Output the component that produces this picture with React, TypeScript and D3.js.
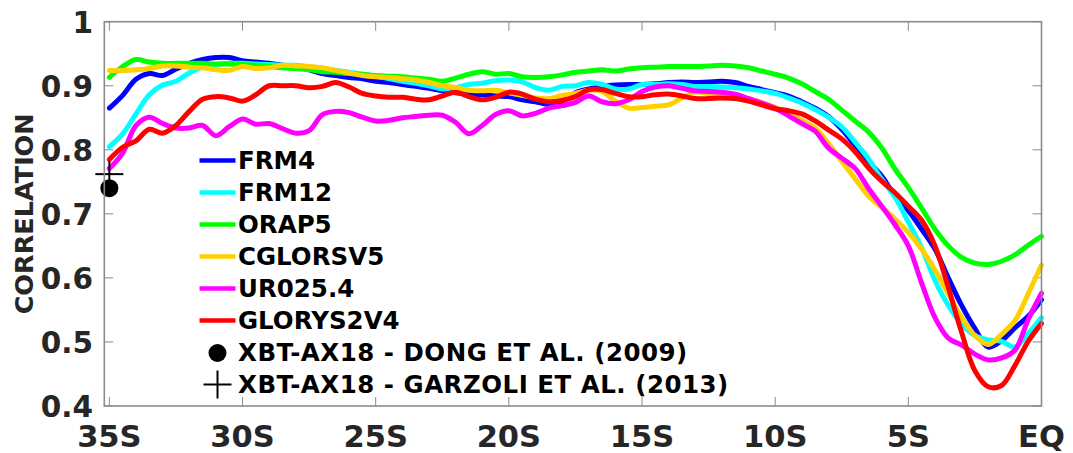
import React from "react";
import * as d3 from "d3";

const lat = [
  -35, -34.5, -34, -33.5, -33, -32.5, -32, -31.5, -31, -30.5,
  -30, -29.5, -29, -28.5, -28, -27.5, -27, -26.5, -26, -25.5,
  -25, -24.5, -24, -23.5, -23, -22.5, -22, -21.5, -21, -20.5,
  -20, -19.5, -19, -18.5, -18, -17.5, -17, -16.5, -16, -15.5,
  -15, -14.5, -14, -13.5, -13, -12.5, -12, -11.5, -11, -10.5,
  -10, -9.5, -9, -8.5, -8, -7.5, -7, -6.5, -6, -5.5,
  -5, -4.5, -4, -3.5, -3, -2.5, -2, -1.5, -1, -0.5,
  0,
];

const frm4 = [
  0.865, 0.885, 0.910, 0.919, 0.916, 0.926, 0.935, 0.941, 0.944, 0.944,
  0.939, 0.937, 0.935, 0.932, 0.930, 0.925, 0.919, 0.916, 0.913, 0.911,
  0.907, 0.905, 0.902, 0.899, 0.896, 0.892, 0.889, 0.887, 0.886, 0.884,
  0.883, 0.878, 0.875, 0.871, 0.876, 0.889, 0.895, 0.899, 0.901, 0.902,
  0.902, 0.903, 0.905, 0.906, 0.905, 0.906, 0.907, 0.905, 0.899, 0.894,
  0.889, 0.884, 0.875, 0.865, 0.852, 0.832, 0.807, 0.782, 0.759, 0.728,
  0.705, 0.676, 0.645, 0.600, 0.557, 0.521, 0.492, 0.502, 0.522, 0.540,
  0.566,
];

const frm12 = [
  0.805, 0.825, 0.856, 0.886, 0.901, 0.907, 0.920, 0.929, 0.933, 0.935,
  0.935, 0.934, 0.933, 0.932, 0.932, 0.929, 0.927, 0.924, 0.921, 0.918,
  0.915, 0.911, 0.907, 0.904, 0.900, 0.895, 0.897, 0.902, 0.904, 0.908,
  0.909, 0.906, 0.897, 0.893, 0.899, 0.900, 0.905, 0.902, 0.895, 0.895,
  0.902, 0.902, 0.903, 0.902, 0.899, 0.899, 0.898, 0.897, 0.895, 0.892,
  0.888, 0.881, 0.873, 0.863, 0.851, 0.836, 0.812, 0.786, 0.754, 0.726,
  0.687, 0.647, 0.596, 0.557, 0.528, 0.510, 0.503, 0.501, 0.492, 0.513,
  0.538,
];

const orap5 = [
  0.913, 0.930, 0.941, 0.937, 0.935, 0.935, 0.935, 0.935, 0.934, 0.934,
  0.933, 0.932, 0.930, 0.928, 0.927, 0.925, 0.922, 0.921, 0.919, 0.918,
  0.916, 0.915, 0.914, 0.912, 0.910, 0.907, 0.912, 0.918, 0.922, 0.918,
  0.919, 0.914, 0.913, 0.914, 0.917, 0.921, 0.923, 0.925, 0.923, 0.926,
  0.928, 0.929, 0.930, 0.930, 0.930, 0.931, 0.932, 0.931, 0.928, 0.923,
  0.918, 0.912, 0.903, 0.891, 0.879, 0.862, 0.845, 0.828, 0.803, 0.770,
  0.741, 0.709, 0.676, 0.650, 0.632, 0.623, 0.621, 0.626, 0.636, 0.651,
  0.665,
];

const cglorsv5 = [
  0.924, 0.924, 0.925, 0.927, 0.931, 0.931, 0.929, 0.928, 0.925, 0.924,
  0.930, 0.927, 0.928, 0.932, 0.931, 0.930, 0.928, 0.924, 0.920, 0.916,
  0.914, 0.913, 0.911, 0.909, 0.905, 0.900, 0.897, 0.893, 0.892, 0.893,
  0.889, 0.885, 0.881, 0.880, 0.885, 0.888, 0.893, 0.891, 0.876, 0.865,
  0.866, 0.868, 0.870, 0.881, 0.890, 0.888, 0.888, 0.886, 0.880, 0.874,
  0.866, 0.857, 0.846, 0.834, 0.810, 0.782, 0.755, 0.728, 0.710, 0.692,
  0.671, 0.645, 0.612, 0.575, 0.539, 0.510, 0.496, 0.512, 0.533, 0.575,
  0.620,
];

const ur0254 = [
  0.771, 0.795, 0.838, 0.851, 0.841, 0.834, 0.834, 0.838, 0.822, 0.836,
  0.848, 0.840, 0.841, 0.833, 0.826, 0.830, 0.855, 0.860, 0.858, 0.851,
  0.845, 0.846, 0.850, 0.852, 0.854, 0.854, 0.843, 0.825, 0.838, 0.855,
  0.861, 0.853, 0.857, 0.865, 0.869, 0.874, 0.884, 0.875, 0.872, 0.878,
  0.891, 0.898, 0.900, 0.896, 0.892, 0.891, 0.890, 0.887, 0.880, 0.873,
  0.865, 0.853, 0.841, 0.829, 0.803, 0.787, 0.771, 0.740, 0.712, 0.683,
  0.650, 0.592, 0.538, 0.506, 0.495, 0.481, 0.472, 0.475, 0.487, 0.535,
  0.576,
];

const glorys2v4 = [
  0.785, 0.804, 0.814, 0.832, 0.826, 0.838, 0.860, 0.879, 0.883, 0.881,
  0.876, 0.886, 0.900, 0.900, 0.900, 0.897, 0.899, 0.905, 0.898, 0.888,
  0.884, 0.882, 0.882, 0.879, 0.878, 0.884, 0.890, 0.883, 0.878, 0.882,
  0.890, 0.887, 0.879, 0.875, 0.877, 0.883, 0.894, 0.894, 0.888, 0.883,
  0.883, 0.886, 0.887, 0.884, 0.880, 0.880, 0.881, 0.880, 0.876, 0.870,
  0.864, 0.861, 0.856, 0.845, 0.831, 0.817, 0.797, 0.772, 0.751, 0.733,
  0.712, 0.690, 0.650, 0.585, 0.515, 0.455, 0.430, 0.432, 0.463, 0.501,
  0.529,
];

const seriesNames = ["FRM4", "FRM12", "ORAP5", "CGLORSV5", "UR025.4", "GLORYS2V4"];
const seriesValues = [frm4, frm12, orap5, cglorsv5, ur0254, glorys2v4];
const seriesColors = ["#0000ff", "#00ffff", "#00ff00", "#ffd000", "#ff00ff", "#ff0000"];

const obsNames = ["XBT-AX18 - DONG ET AL. (2009)", "XBT-AX18 - GARZOLI ET AL. (2013)"];
const obsLat = [-35, -35];
const obsValue = [0.74, 0.762];

const xTickValues = [-35, -30, -25, -20, -15, -10, -5, 0];
const xTickLabels = ["35S", "30S", "25S", "20S", "15S", "10S", "5S", "EQ"];
const yTickValues = [0.4, 0.5, 0.6, 0.7, 0.8, 0.9, 1];
const yTickLabels = ["0.4", "0.5", "0.6", "0.7", "0.8", "0.9", "1"];

const W = 1073;
const H = 453;
const M = { left: 104.3, right: 1041.5, top: 21.7, bottom: 406 };
const FONT = "'DejaVu Sans', Verdana, sans-serif";

export default function App() {
  const x = d3.scaleLinear().domain([-35.19, 0]).range([M.left, M.right]);
  const y = d3.scaleLinear().domain([0.4, 1]).range([M.bottom, M.top]);
  const line = d3
    .line<number>()
    .x((_, i) => x(lat[i]))
    .y((d) => y(d))
    .curve(d3.curveCatmullRom.alpha(0.5));

  const axisColor = "#8a8a8a";
  const textColor = "#262626";
  const tickLen = 9;

  const legX0 = 199.5;
  const legX1 = 235.5;
  const legText = 238;
  const legY0 = 160.5;
  const legDy = 32;

  return (
    <svg
      width={W}
      height={H}
      style={{ position: "absolute", left: 0, top: 0, background: "#fff" }}
      fontFamily={FONT}
    >
      <rect x={0} y={0} width={W} height={H} fill="#fff" />

      {/* ticks */}
      {xTickValues.map((v) => (
        <g key={"xt" + v} stroke={axisColor} strokeWidth={1}>
          <line x1={x(v)} x2={x(v)} y1={M.bottom} y2={M.bottom - tickLen} />
          <line x1={x(v)} x2={x(v)} y1={M.top} y2={M.top + tickLen} />
        </g>
      ))}
      {yTickValues.map((v) => (
        <g key={"yt" + v} stroke={axisColor} strokeWidth={1}>
          <line x1={M.left} x2={M.left + tickLen} y1={y(v)} y2={y(v)} />
          <line x1={M.right} x2={M.right - tickLen} y1={y(v)} y2={y(v)} />
        </g>
      ))}

      {/* series */}
      {seriesValues.map((vals, i) => (
        <path
          key={seriesNames[i]}
          d={line(vals) || ""}
          fill="none"
          stroke={seriesColors[i]}
          strokeWidth={5}
          strokeLinejoin="round"
          strokeLinecap="round"
        />
      ))}

      {/* observations */}
      <circle cx={x(obsLat[0])} cy={y(obsValue[0])} r={9} fill="#000" />
      <g stroke="#000" strokeWidth={2}>
        <line x1={x(obsLat[1]) - 14} x2={x(obsLat[1]) + 14} y1={y(obsValue[1])} y2={y(obsValue[1])} />
        <line x1={x(obsLat[1])} x2={x(obsLat[1])} y1={y(obsValue[1]) - 13} y2={y(obsValue[1]) + 13} />
      </g>

      {/* box */}
      <rect
        x={M.left}
        y={M.top}
        width={M.right - M.left}
        height={M.bottom - M.top}
        fill="none"
        stroke={axisColor}
        strokeWidth={1.6}
      />

      {/* tick labels */}
      {xTickValues.map((v, i) => (
        <text
          key={"xl" + v}
          x={x(v)}
          y={446.5}
          textAnchor="middle"
          fontSize={30.5}
          fontWeight="bold"
          fill={textColor}
        >
          {xTickLabels[i]}
        </text>
      ))}
      {yTickValues.map((v, i) => (
        <text
          key={"yl" + v}
          x={93}
          y={y(v) + 10.8}
          textAnchor="end"
          fontSize={29.5}
          fontWeight="bold"
          fill={textColor}
        >
          {yTickLabels[i]}
        </text>
      ))}

      <text
        transform={`translate(33,${(M.top + M.bottom) / 2}) rotate(-90)`}
        textAnchor="middle"
        fontSize={25.5}
        fontWeight="bold"
        fill={textColor}
      >
        CORRELATION
      </text>

      {/* legend */}
      {seriesNames.map((n, i) => (
        <g key={"leg" + n}>
          <line
            x1={legX0}
            x2={legX1}
            y1={legY0 + i * legDy}
            y2={legY0 + i * legDy}
            stroke={seriesColors[i]}
            strokeWidth={4.5}
          />
          <text
            x={legText}
            y={legY0 + i * legDy + 8.8}
            fontSize={24.5}
            fontWeight="bold"
            fill="#000"
          >
            {n}
          </text>
        </g>
      ))}
      <circle cx={217.5} cy={legY0 + 6 * legDy + 0.5} r={9} fill="#000" />
      <g stroke="#000" strokeWidth={2}>
        <line x1={203.5} x2={231.5} y1={legY0 + 7 * legDy} y2={legY0 + 7 * legDy} />
        <line x1={217.5} x2={217.5} y1={legY0 + 7 * legDy - 14} y2={legY0 + 7 * legDy + 14} />
      </g>
      {obsNames.map((n, i) => (
        <text
          key={"obs" + i}
          x={legText}
          y={legY0 + (6 + i) * legDy + 8.8}
          fontSize={24.5}
          fontWeight="bold"
          letterSpacing={0.5}
          fill="#000"
        >
          {n}
        </text>
      ))}
    </svg>
  );
}
